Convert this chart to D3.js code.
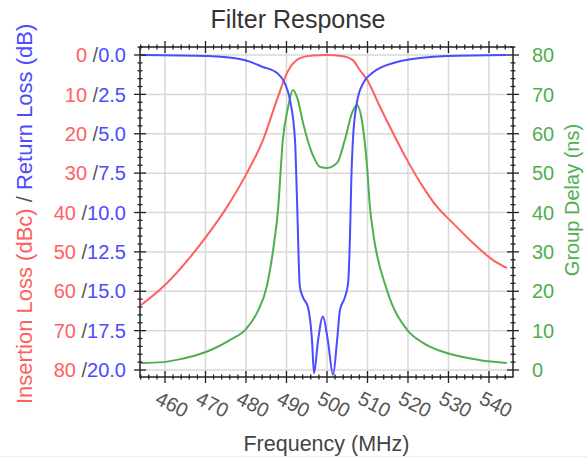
<!DOCTYPE html>
<html><head><meta charset="utf-8">
<script src="https://cdn.jsdelivr.net/npm/d3@7"></script>
<style>
body{margin:0;background:#fff;}
svg{display:block;font-family:"Liberation Sans",Arial,Helvetica,sans-serif;}
</style></head>
<body><svg id="chart" width="587" height="461"></svg>
<script>
// ---- data ----
const title = "Filter Response";
const xTicks = [460,470,480,490,500,510,520,530,540];
const ilTicks = [0,10,20,30,40,50,60,70,80];
const rlTicks = ["0.0","2.5","5.0","7.5","10.0","12.5","15.0","17.5","20.0"];
const gdTicks = [0,10,20,30,40,50,60,70,80];

const ilFreq = [454.1,460,469.9,474.8,480.2,484.2,487.7,490.1,493.3,496.5,500,504,506.4,508.1,509.9,513.1,516.3,519.8,523.7,527.2,531.1,536,541,544.4];
const ilValues = [63.5,58.4,46.5,39.4,30.0,21.6,11.2,4.6,0.8,0.1,0,0.3,1.3,3.8,6.3,13.2,19.8,26.7,33.5,38.6,42.7,47.7,52.1,54.1];

const rlFreq = [454.1,470.4,479.3,484.2,487.7,489.6,490.9,492.1,492.6,493.3,494.1,495.3,496.3,496.8,497.8,499.0,500.2,501.5,502.5,503.2,504.4,505.2,505.7,506.0,506.4,507.4,508.9,511.4,517.3,523,529.6,544.4];
const rlValues = [0,0.06,0.3,0.76,1.14,1.8,2.9,5.4,9.2,14.7,15.4,16.0,18.1,20.2,18.1,16.6,18.1,20.3,18.1,16.2,15.4,14.5,11.3,8.0,5.4,3.0,1.8,1.1,0.44,0.19,0.06,0];

const gdFreq = [454.1,459.5,463.5,467.9,472,476,480,482.7,485.2,486.7,487.9,489.1,490.4,491.6,492.8,494.1,496.3,498.3,500,502.5,504.4,506.2,507.4,508.6,509.9,510.6,511.4,514.8,519.8,523.7,529.6,537.8,544.4];
const gdValues = [1.8,2.0,2.7,3.8,5.4,7.6,10.4,14.5,21.5,30.5,40.6,58.4,66.8,71.1,68.6,62.7,55.1,51.6,51.3,52.6,58.4,65.3,67.3,63.5,51.6,41.4,34.8,20.3,10.2,6.9,4.3,2.5,1.8];

// ---- styles ----
const RED="#ff5f5f", BLUE="#4b4bff", GREEN="#4fae4f", GRAY="#555", FRAME="#222", GRID="#d8d8d8";

const svg = d3.select("#chart");
const x = d3.scaleLinear().domain([453.83,545.93]).range([140,513]);
const yIL = d3.scaleLinear().domain([0,80]).range([55,370]);
const yRL = d3.scaleLinear().domain([0,20]).range([55,370]);
const yGD = d3.scaleLinear().domain([0,80]).range([370,55]);
const ilTop = yIL.invert(47), ilBottom = yIL.invert(377);
const X0=x.range()[0], X1=x.range()[1], Y0=yIL(ilTop), Y1=yIL(ilBottom);

// bottom faint separator
svg.append("line").attr("x1",0).attr("x2",587).attr("y1",456.5).attr("y2",456.5).attr("stroke","#eeeeee").attr("stroke-width",1);

// grid
const g = svg.append("g");
g.selectAll(".gx").data(xTicks).join("line").attr("x1",d=>x(d)).attr("x2",d=>x(d)).attr("y1",Y0).attr("y2",Y1).attr("stroke",GRID).attr("stroke-width",1.5);
g.selectAll(".gy").data(ilTicks).join("line").attr("y1",d=>yIL(d)).attr("y2",d=>yIL(d)).attr("x1",X0).attr("x2",X1).attr("stroke",GRID).attr("stroke-width",1.5);

// curves
svg.append("clipPath").attr("id","clip").append("rect").attr("x",X0).attr("y",Y0).attr("width",X1-X0).attr("height",Y1-Y0);
const cg = svg.append("g").attr("clip-path","url(#clip)");
function draw(fr, vals, ys, color){
  const line = d3.line().x((d,i)=>x(fr[i])).y(d=>ys(d)).curve(d3.curveMonotoneX);
  cg.append("path").attr("d",line(vals)).attr("fill","none").attr("stroke",color).attr("stroke-width",2).attr("stroke-linejoin","round");
}
draw(gdFreq, gdValues, yGD, GREEN);
draw(ilFreq, ilValues, yIL, RED);
draw(rlFreq, rlValues, yRL, BLUE);

// frame
svg.append("rect").attr("x",X0).attr("y",Y0).attr("width",X1-X0).attr("height",Y1-Y0).attr("fill","none").attr("stroke",FRAME).attr("stroke-width",1.5);
const tk = svg.append("g").attr("stroke",FRAME).attr("stroke-width",1.3);
const xMinor = d3.range(454,546,2).filter(v=>!xTicks.includes(v));
const yMinor = d3.range(0,82,2).filter(v=>!ilTicks.includes(v)).concat([-2]);
function hTicks(vals, len){
  vals.forEach(v=>{
    [Y0,Y1].forEach(yy=>tk.append("line").attr("x1",x(v)).attr("x2",x(v)).attr("y1",yy-len).attr("y2",yy+len));
  });
}
function vTicks(vals, len){
  vals.forEach(v=>{
    [X0,X1].forEach(xx=>tk.append("line").attr("y1",yIL(v)).attr("y2",yIL(v)).attr("x1",xx-len).attr("x2",xx+len));
  });
}
hTicks(xTicks,6); hTicks(xMinor,2.5);
vTicks(ilTicks,6); vTicks(yMinor,2.5);

// left tick labels
const lt = svg.append("g").attr("font-size",20).attr("text-anchor","end");
ilTicks.forEach((v,i)=>{
  const t = lt.append("text").attr("x",126).attr("y",yIL(v)).attr("dy","0.36em");
  t.append("tspan").attr("fill",RED).text(v);
  t.append("tspan").attr("fill",GRAY).text(" /");
  t.append("tspan").attr("fill",BLUE).text(rlTicks[i]);
});
// right tick labels
svg.append("g").attr("font-size",20).attr("fill",GREEN).selectAll("text").data(gdTicks).join("text")
  .attr("x",532).attr("y",d=>yGD(d)).attr("dy","0.36em").text(d=>d);
// bottom tick labels
svg.append("g").attr("font-size",20).attr("fill",GRAY).selectAll("text").data(xTicks).join("text")
  .attr("transform",d=>`translate(${x(d)-11},403) rotate(27)`).text(d=>d);

// titles
svg.append("text").attr("x",298).attr("y",28).attr("text-anchor","middle").attr("font-size",25).attr("fill","#333").text(title);
svg.append("text").attr("x",X0+(X1-X0)/2).attr("y",451).attr("text-anchor","middle").attr("font-size",21.5).attr("fill","#444").text("Frequency (MHz)");
const yl = svg.append("text").attr("transform","translate(32,404) rotate(-90)").attr("font-size",22);
yl.append("tspan").attr("fill",RED).text("Insertion Loss (dBc)");
yl.append("tspan").attr("fill",GRAY).text(" / ");
yl.append("tspan").attr("fill",BLUE).text("Return Loss (dB)");
svg.append("text").attr("transform","translate(579,200) rotate(-90)").attr("text-anchor","middle").attr("font-size",20).attr("fill",GREEN).text("Group Delay (ns)");
</script></body></html>
